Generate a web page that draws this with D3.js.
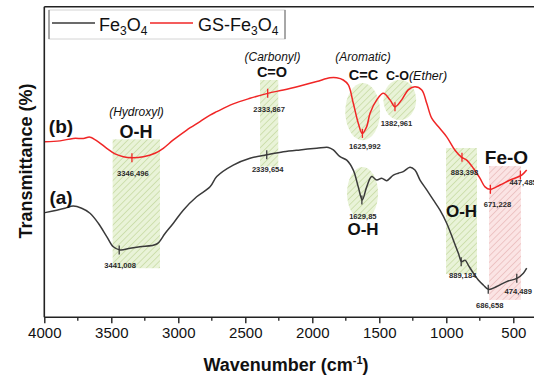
<!DOCTYPE html>
<html>
<head>
<meta charset="utf-8">
<script src="https://cdn.jsdelivr.net/npm/d3@7"></script>
<style>
  body { margin: 0; background: #fff; }
  svg { display: block; font-family: "Liberation Sans", Arial, sans-serif; }
</style>
</head>
<body>
<svg id="chart" width="534" height="379"></svg>
<script>
// FTIR spectra (transmittance in arbitrary %)
const fe3o4Wave = [3995, 3907, 3846, 3784, 3721, 3659, 3597, 3534, 3485, 3435, 3360, 3286, 3161, 3099, 3037, 2963, 2863, 2763, 2713, 2590, 2465, 2340, 2216, 2092, 1967, 1880, 1843, 1793, 1743, 1694, 1657, 1627, 1594, 1557, 1519, 1482, 1445, 1395, 1358, 1321, 1271, 1234, 1196, 1146, 1097, 1047, 997, 948, 910, 885, 860, 836, 798, 761, 724, 686, 624, 550, 470, 425, 400];
const fe3o4Trans = [33.7, 34.5, 35.1, 35.8, 35.1, 33.5, 30.3, 26.0, 22.7, 21.7, 22.2, 22.7, 23.6, 27.0, 30.3, 34.5, 38.8, 42.0, 45.3, 49.0, 51.2, 52.3, 53.3, 53.9, 54.4, 54.7, 53.9, 51.7, 50.6, 47.4, 42.0, 37.8, 42.0, 45.3, 44.2, 44.8, 44.0, 45.8, 46.4, 46.9, 48.3, 47.4, 44.2, 41.0, 37.8, 34.5, 30.3, 24.9, 20.6, 17.9, 18.4, 16.8, 14.2, 12.0, 10.4, 9.0, 9.9, 11.5, 12.6, 14.2, 15.8];

const gsWave = [3995, 3883, 3784, 3709, 3659, 3597, 3534, 3472, 3410, 3348, 3261, 3174, 3112, 3037, 2937, 2838, 2763, 2713, 2590, 2465, 2333, 2216, 2092, 1967, 1868, 1818, 1769, 1731, 1694, 1657, 1627, 1594, 1569, 1519, 1470, 1420, 1383, 1333, 1284, 1234, 1183, 1146, 1109, 1060, 997, 935, 885, 848, 798, 749, 711, 674, 599, 524, 437, 400];
const gsTrans = [56.5, 56.8, 57.6, 57.6, 58.0, 56.5, 54.4, 52.6, 51.7, 51.4, 51.7, 52.8, 54.4, 57.1, 60.3, 63.0, 65.1, 66.2, 68.7, 70.5, 72.1, 73.2, 74.5, 75.9, 77.1, 77.1, 76.4, 74.8, 68.9, 62.5, 59.2, 61.4, 65.7, 70.0, 72.1, 70.0, 67.8, 70.0, 73.2, 74.2, 73.2, 68.9, 64.1, 61.4, 58.1, 53.8, 51.5, 50.6, 48.0, 44.8, 42.0, 41.2, 42.6, 44.2, 45.8, 47.4];

// marked peaks
const fe3o4PeakWave = [3441, 2340, 1630, 889, 687, 474];
const fe3o4PeakTrans = [21.7, 52.3, 37.8, 17.9, 9.0, 12.6];
const fe3o4PeakLabels = ['3441,008', '2339,654', '1629,85', '889,184', '686,658', '474,489'];

const gsPeakWave = [3346, 2333, 1626, 1383, 883, 671, 447];
const gsPeakTrans = [51.4, 72.1, 59.2, 67.8, 51.5, 41.2, 45.8];
const gsPeakLabels = ['3346,496', '2333,867', '1625,992', '1382,961', '883,398', '671,228', '447,485'];

const xTicks = [4000, 3500, 3000, 2500, 2000, 1500, 1000, 500];

// shaded bands [wave from, wave to, trans top, trans bottom]
const bandRects = [
  { w0: 3490, w1: 3137, t0: 57.3, t1: 15.8, tone: 'green' },
  { w0: 2390, w1: 2254, t0: 76.4, t1: 48.5, tone: 'green' },
  { w0: 1002, w1: 771, t0: 54.5, t1: 13.9, tone: 'green' },
  { w0: 681, w1: 443, t0: 48.7, t1: 5.6, tone: 'pink' }
];
const bandEllipses = [
  { w: 1624, t: 66.2, rw: 130, rt: 9.2 },
  { w: 1347, t: 70.0, rw: 122, rt: 6.5 },
  { w: 1625, t: 39.9, rw: 116, rt: 8.5 }
];

const width = 534, height = 379;
const margin = { top: 6.7, right: 0, bottom: 61.7, left: 44.3 };
const plotBottom = height - margin.bottom;

const svg = d3.select('#chart');

const x = d3.scaleLinear().domain([4000, 500]).range([margin.left, 513.3]);
const y = d3.scaleLinear().domain([0, 100]).range([plotBottom, plotBottom - 310.6]);

// hatch patterns
const defs = svg.append('defs');
function hatch(id, bg, fg) {
  const p = defs.append('pattern')
    .attr('id', id)
    .attr('patternUnits', 'userSpaceOnUse')
    .attr('width', 4.5).attr('height', 4.5)
    .attr('patternTransform', 'rotate(45)');
  p.append('rect').attr('width', 4.5).attr('height', 4.5).attr('fill', bg);
  p.append('line').attr('x1', 0).attr('y1', 0).attr('x2', 0).attr('y2', 4.5)
    .attr('stroke', fg).attr('stroke-width', 1.4);
}
hatch('hatch-green', '#e9f3d8', '#c4d99e');
hatch('hatch-pink', '#fbe4e4', '#e8b8b8');

// bands
svg.append('g').selectAll('rect')
  .data(bandRects)
  .join('rect')
  .attr('x', d => x(d.w0))
  .attr('y', d => y(d.t0))
  .attr('width', d => x(d.w1) - x(d.w0))
  .attr('height', d => y(d.t1) - y(d.t0))
  .attr('fill', d => d.tone === 'pink' ? 'url(#hatch-pink)' : 'url(#hatch-green)');

svg.append('g').selectAll('ellipse')
  .data(bandEllipses)
  .join('ellipse')
  .attr('cx', d => x(d.w))
  .attr('cy', d => y(d.t))
  .attr('rx', d => x(d.w - d.rw) - x(d.w))
  .attr('ry', d => y(0) - y(d.rt))
  .attr('fill', 'url(#hatch-green)');

// spectra
const line = d3.line()
  .x(d => x(d[0]))
  .y(d => y(d[1]))
  .curve(d3.curveCatmullRom.alpha(0.5));

const series = [
  { wave: fe3o4Wave, trans: fe3o4Trans, color: '#3a3a3a',
    pw: fe3o4PeakWave, pt: fe3o4PeakTrans, pl: fe3o4PeakLabels },
  { wave: gsWave, trans: gsTrans, color: '#f02626',
    pw: gsPeakWave, pt: gsPeakTrans, pl: gsPeakLabels }
];

series.forEach(s => {
  svg.append('path')
    .datum(s.wave.map((w, i) => [w, s.trans[i]]))
    .attr('fill', 'none')
    .attr('stroke', s.color)
    .attr('stroke-width', 1.5)
    .attr('stroke-linejoin', 'round')
    .attr('d', line);

  svg.append('g').selectAll('line')
    .data(s.pw)
    .join('line')
    .attr('x1', d => x(d)).attr('x2', d => x(d))
    .attr('y1', (d, i) => y(s.pt[i]) - 4.5)
    .attr('y2', (d, i) => y(s.pt[i]) + 4.5)
    .attr('stroke', s.color)
    .attr('stroke-width', 1.3);
});

// peak labels: offset from the marker in px
const labelShift = {
  '3441,008': [1, 15], '2339,654': [1, 14], '1629,85': [1, 16], '889,184': [1.5, 13],
  '686,658': [1.5, 16], '474,489': [1.5, 13],
  '3346,496': [1, 15], '2333,867': [1.5, 16], '1625,992': [2.5, 13], '1382,961': [1.5, 16],
  '883,398': [2.5, 15], '671,228': [7, 15], '447,485': [-11, 7]
};
series.forEach(s => {
  svg.append('g').selectAll('text')
    .data(s.pw)
    .join('text')
    .attr('x', (d, i) => x(d) + labelShift[s.pl[i]][0])
    .attr('y', (d, i) => y(s.pt[i]) + labelShift[s.pl[i]][1] + 3)
    .attr('text-anchor', (d, i) => s.pl[i] === '447,485' ? 'start' : 'middle')
    .style('font-size', '7.6px')
    .style('font-weight', '700')
    .style('fill', '#2a2a2a')
    .text((d, i) => s.pl[i]);
});

// group annotations
const notes = [
  { text: '(Hydroxyl)', px: 136.5, py: 116, size: 12, italic: true },
  { text: 'O-H', px: 136, py: 138, size: 18, bold: true },
  { text: '(Carbonyl)', px: 272.5, py: 60.5, size: 12, italic: true },
  { text: 'C=O', px: 272, py: 77, size: 14.5, bold: true },
  { text: '(Aromatic)', px: 363, py: 60.5, size: 12, italic: true },
  { text: 'C=C', px: 363.5, py: 80, size: 14.5, bold: true },
  { text: 'O-H', px: 363, py: 234.5, size: 17, bold: true },
  { text: 'O-H', px: 461.5, py: 217, size: 17, bold: true },
  { text: 'Fe-O', px: 506.5, py: 163.5, size: 19, bold: true },
  { text: '(b)', px: 61, py: 133, size: 19, bold: true },
  { text: '(a)', px: 61, py: 203.5, size: 19, bold: true }
];
svg.append('g').selectAll('text')
  .data(notes)
  .join('text')
  .attr('x', d => d.px)
  .attr('y', d => d.py)
  .attr('text-anchor', 'middle')
  .style('font-size', d => d.size + 'px')
  .style('font-weight', d => d.bold ? '700' : '400')
  .style('font-style', d => d.italic ? 'italic' : 'normal')
  .style('fill', '#111')
  .text(d => d.text);

const coNote = svg.append('text')
  .attr('x', 386)
  .attr('y', 80)
  .style('fill', '#111');
coNote.append('tspan').style('font-size', '12.5px').style('font-weight', '700').text('C-O');
coNote.append('tspan').style('font-size', '12.5px').style('font-style', 'italic').text('(Ether)');

// frame and axes
const frame = svg.append('g').attr('stroke', '#222').attr('stroke-width', 1.6);
frame.append('line').attr('x1', margin.left).attr('x2', width).attr('y1', margin.top).attr('y2', margin.top);
frame.append('line').attr('x1', margin.left).attr('x2', margin.left).attr('y1', margin.top).attr('y2', plotBottom);

const xAxis = svg.append('g')
  .attr('transform', `translate(0,${plotBottom})`)
  .call(d3.axisBottom(x).tickValues(xTicks).tickSize(6).tickPadding(4).tickFormat(d3.format('d')));
xAxis.select('.domain').attr('d', `M${margin.left},0H${width}`).attr('stroke', '#222').attr('stroke-width', 1.6);
xAxis.selectAll('.tick line').attr('stroke', '#222').attr('stroke-width', 1.4);
xAxis.selectAll('.tick text')
  .style('font-family', '"Liberation Sans", Arial, sans-serif')
  .style('font-size', '15px')
  .style('fill', '#111');

const minorTicks = xTicks.slice(0, -1).map(d => d - 250);
svg.append('g').selectAll('line')
  .data(minorTicks)
  .join('line')
  .attr('x1', d => x(d)).attr('x2', d => x(d))
  .attr('y1', plotBottom).attr('y2', plotBottom + 3.5)
  .attr('stroke', '#222').attr('stroke-width', 1.3);

// axis titles
const xTitle = svg.append('text')
  .attr('x', 286)
  .attr('y', 371)
  .attr('text-anchor', 'middle')
  .style('font-size', '18px')
  .style('font-weight', '700')
  .style('fill', '#111');
xTitle.append('tspan').text('Wavenumber (cm');
xTitle.append('tspan').attr('dy', -7).style('font-size', '11px').text('-1');
xTitle.append('tspan').attr('dy', 7).text(')');

svg.append('text')
  .attr('transform', 'translate(31.5,161) rotate(-90)')
  .attr('text-anchor', 'middle')
  .style('font-size', '18px')
  .style('font-weight', '700')
  .style('fill', '#111')
  .text('Transmittance (%)');

// legend
const legend = svg.append('g');
legend.append('rect')
  .attr('x', 49).attr('y', 10).attr('width', 236).attr('height', 29)
  .attr('fill', '#fff').attr('stroke', '#d4d4d4').attr('stroke-width', 1);
legend.append('line').attr('x1', 49).attr('x2', 49).attr('y1', 10).attr('y2', 39).attr('stroke', '#666');
legend.append('line').attr('x1', 285).attr('x2', 285).attr('y1', 10).attr('y2', 39).attr('stroke', '#666');

const legendItems = [
  { lx0: 52, lx1: 95, tx: 99, prefix: 'Fe', color: '#3a3a3a' },
  { lx0: 150, lx1: 193, tx: 198, prefix: 'GS-Fe', color: '#f02626' }
];
legendItems.forEach(it => {
  legend.append('line')
    .attr('x1', it.lx0).attr('x2', it.lx1).attr('y1', 23).attr('y2', 23)
    .attr('stroke', it.color).attr('stroke-width', 1.5);
  const t = legend.append('text').attr('x', it.tx).attr('y', 30.5)
    .style('font-size', '18px').style('fill', '#111');
  t.append('tspan').text(it.prefix);
  t.append('tspan').attr('dy', 4).style('font-size', '12px').text('3');
  t.append('tspan').attr('dy', -4).text('O');
  t.append('tspan').attr('dy', 4).style('font-size', '12px').text('4');
});
</script>
</body>
</html>
